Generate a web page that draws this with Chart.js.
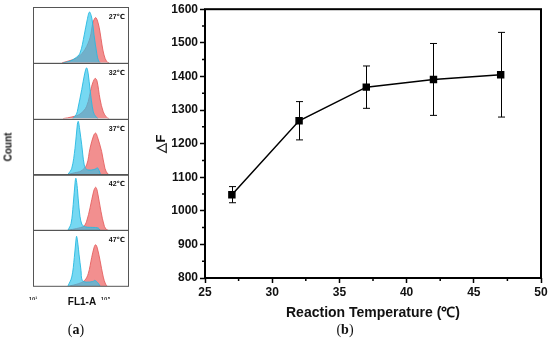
<!DOCTYPE html>
<html lang="en">
<head>
<meta charset="UTF-8">
<title>Reaction temperature vs ΔF</title>
<script src="https://cdn.jsdelivr.net/npm/chart.js"></script>
<style>
  body { margin: 0; width: 550px; height: 351px; background: #fff; position: relative; overflow: hidden;
         font-family: "Liberation Sans", Arial, sans-serif; }
  canvas { position: absolute; }
  #histChart { left: 0; top: 0; }
  #tempChart { left: 140px; top: 0; }
  .txt { position: absolute; color: #111; white-space: nowrap; transform: translate(-50%, -50%); }
  .bold { font-weight: bold; }
  .serif { font-family: "Liberation Serif", "Times New Roman", serif; font-size: 14px; }
</style>
</head>
<body>
<canvas id="histChart" width="140" height="300"></canvas>
<canvas id="tempChart" width="410" height="325"></canvas>

<div class="txt bold" style="left:7.5px; top:147px; font-size:10px; transform:translate(-50%,-50%) rotate(-90deg);">Count</div>
<div class="txt bold" style="left:82px; top:301px; font-size:10px;">FL1-A</div>
<div class="txt serif" style="left:76px; top:330px;">(<b>a</b>)</div>
<div class="txt serif" style="left:345px; top:330px;">(<b>b</b>)</div>

<script>
// ---- panel (a): FL1-A histograms, x = log10 decade, y = % of panel height ----
const histTemps = [27, 32, 37, 42, 47];
const flTicks = [1, 5];

const cyan27 = [[2.66,0],[3.04,3],[3.32,8],[3.59,17],[3.83,50],[3.98,75],[4.12,91],[4.26,78],[4.37,50],[4.52,17],[4.62,3],[4.72,0]];
const red27  = [[2.60,0],[3.04,4],[3.48,10],[3.87,24],[4.15,45],[4.31,72],[4.46,81],[4.59,72],[4.70,55],[4.81,32],[4.92,14],[5.07,2],[5.20,0]];
const cyan32 = [[3.20,0],[3.40,8],[3.48,18],[3.69,52],[3.85,80],[3.96,91],[4.05,80],[4.15,52],[4.33,12],[4.48,3],[4.60,0]];
const red32  = [[2.66,0],[3.15,3],[3.59,8],[3.96,22],[4.24,58],[4.42,72],[4.53,68],[4.70,35],[4.88,12],[5.07,2],[5.20,0]];
const cyan37 = [[2.93,0],[3.14,11],[3.32,47],[3.45,90],[3.50,95],[3.58,80],[3.69,53],[3.83,17],[3.96,9],[4.24,8],[4.48,10],[4.55,12],[4.66,6],[4.72,0]];
const red37  = [[2.95,0],[3.30,3],[3.65,6],[3.96,17],[4.15,47],[4.35,70],[4.46,74],[4.55,68],[4.79,41],[4.97,11],[5.12,1],[5.20,0]];
const cyan42 = [[2.93,0],[3.10,12],[3.22,46],[3.33,88],[3.37,93],[3.45,75],[3.54,40],[3.69,11],[3.90,6],[4.30,5],[4.60,4],[4.70,0]];
const red42  = [[2.95,0],[3.40,3],[3.80,7],[3.96,16],[4.15,40],[4.35,70],[4.46,77],[4.55,70],[4.75,34],[4.94,7],[5.07,1],[5.15,0]];
const cyan47 = [[2.93,0],[3.14,16],[3.28,51],[3.38,85],[3.41,89],[3.48,75],[3.54,57],[3.65,28],[3.72,10],[3.95,7],[4.30,8],[4.42,10],[4.60,5],[4.70,0]];
const red47  = [[3.00,0],[3.50,4],[3.85,10],[4.05,22],[4.24,51],[4.38,70],[4.46,74],[4.55,68],[4.70,46],[4.88,16],[5.01,3],[5.10,0]];

// ---- panel (b): ΔF vs reaction temperature ----
const temperature = [27, 32, 37, 42, 47];
const deltaF = [1048, 1268, 1368, 1391, 1405];
const deltaFErr = [24, 57, 63, 107, 126];

Chart.defaults.font.family = '"Liberation Sans", Arial, sans-serif';
Chart.defaults.color = '#111';

const cyanHist = [cyan27, cyan32, cyan37, cyan42, cyan47];
const redHist = [red27, red32, red37, red42, red47];
const toXY = pts => pts.map(p => ({ x: p[0], y: p[1] }));
const sup = { 1: '\u00b9', 5: '\u2075' };

const histSets = [];
histTemps.forEach((t, i) => {
    histSets.push({
        data: toXY(cyanHist[i]), yAxisID: 'y' + i, order: 0, fill: 'origin',
        backgroundColor: 'rgba(45,195,235,0.65)', borderColor: 'rgba(40,185,225,0.9)',
        borderWidth: 1, pointRadius: 0, tension: 0.35
    });
    histSets.push({
        data: toXY(redHist[i]), yAxisID: 'y' + i, order: 1, fill: 'origin',
        backgroundColor: 'rgba(238,105,105,0.75)', borderColor: 'rgba(230,95,95,0.9)',
        borderWidth: 1, pointRadius: 0, tension: 0.35
    });
});

const histScales = {
    x: {
        type: 'linear', min: 1, max: 6.3,
        afterBuildTicks: s => { s.ticks = flTicks.map(v => ({ value: v })); },
        afterFit: s => { s.height = 14; },
        ticks: { font: { size: 6, weight: 'bold' }, color: '#333', padding: 2, maxRotation: 0, callback: v => '10' + sup[v] },
        grid: { display: false },
        border: { display: false }
    }
};
// stacked axes are placed bottom-up, so add the last panel first
for (let i = histTemps.length - 1; i >= 0; i--) {
    histScales['y' + i] = { type: 'linear', position: 'left', min: 0, max: 100, display: false, stack: 'hist', stackWeight: 1 };
}

// outline of each histogram box and its temperature label
const histFrame = {
    id: 'histFrame',
    afterDatasetsDraw(chart) {
        const { ctx, chartArea: a } = chart;
        ctx.save();
        ctx.strokeStyle = '#555';
        ctx.lineWidth = 1;
        histTemps.forEach((t, i) => {
            const s = chart.scales['y' + i];
            ctx.strokeRect(a.left + 0.5, Math.round(s.top) + 0.5, a.right - a.left - 1, s.bottom - s.top);
            ctx.fillStyle = '#111';
            ctx.font = 'bold 7px "Liberation Sans", "DejaVu Sans", sans-serif';
            ctx.textAlign = 'right';
            ctx.fillText(t + '\u2103', a.right - 4, s.top + 12);
        });
        ctx.restore();
    }
};

new Chart(document.getElementById('histChart'), {
    type: 'line',
    data: { datasets: histSets },
    options: {
        responsive: false, animation: false,
        layout: { padding: { left: 33, right: 11, top: 7, bottom: 0 } },
        plugins: { legend: { display: false }, tooltip: { enabled: false } },
        scales: histScales
    },
    plugins: [histFrame]
});

// error bars drawn under the line and markers
const errorBars = {
    id: 'errorBars',
    beforeDatasetsDraw(chart) {
        const { ctx, scales: { x, y } } = chart;
        ctx.save();
        ctx.strokeStyle = '#000';
        ctx.lineWidth = 1;
        temperature.forEach((t, i) => {
            const px = Math.round(x.getPixelForValue(t)) + 0.5;
            const top = y.getPixelForValue(deltaF[i] + deltaFErr[i]);
            const bot = y.getPixelForValue(deltaF[i] - deltaFErr[i]);
            ctx.beginPath();
            ctx.moveTo(px, top); ctx.lineTo(px, bot);
            ctx.moveTo(px - 3.5, top); ctx.lineTo(px + 3.5, top);
            ctx.moveTo(px - 3.5, bot); ctx.lineTo(px + 3.5, bot);
            ctx.stroke();
        });
        ctx.restore();
    }
};

// box round the plot, plus short minor ticks (majors come from the scales)
const plotFrame = {
    id: 'plotFrame',
    afterDraw(chart) {
        const { ctx, chartArea: a, scales: { x, y } } = chart;
        ctx.save();
        ctx.strokeStyle = '#000';
        ctx.lineWidth = 1.5;
        ctx.beginPath();
        x.ticks.filter(t => t.value % 5 !== 0).forEach(t => {
            const px = x.getPixelForValue(t.value);
            ctx.moveTo(px, a.bottom); ctx.lineTo(px, a.bottom + 3);
        });
        y.ticks.filter(t => t.value % 100 !== 0).forEach(t => {
            const py = y.getPixelForValue(t.value);
            ctx.moveTo(a.left, py); ctx.lineTo(a.left - 3, py);
        });
        ctx.stroke();
        ctx.lineWidth = 2;
        ctx.strokeRect(a.left, a.top, a.right - a.left, a.bottom - a.top);
        ctx.restore();
    }
};

const majorTick = (ctx, step) => (ctx.tick && ctx.tick.value % step === 0 ? '#000' : 'rgba(0,0,0,0)');

new Chart(document.getElementById('tempChart'), {
    type: 'line',
    data: {
        datasets: [{
            data: temperature.map((t, i) => ({ x: t, y: deltaF[i] })),
            borderColor: '#000', borderWidth: 1.5, tension: 0,
            pointStyle: 'rect', pointRadius: 4.2,
            pointBackgroundColor: '#000', pointBorderColor: '#000'
        }]
    },
    options: {
        responsive: false, animation: false,
        layout: { padding: { left: 0, right: 9, top: 7, bottom: 0 } },
        plugins: { legend: { display: false }, tooltip: { enabled: false } },
        scales: {
            x: {
                type: 'linear', min: 25, max: 50,
                afterFit: s => { s.height = 47; },
                ticks: {
                    stepSize: 2.5, autoSkip: false, maxRotation: 0, padding: 2, color: '#111',
                    font: { size: 12, weight: 'bold' },
                    callback: v => (v % 5 === 0 ? v : '')
                },
                grid: { drawOnChartArea: false, tickLength: 5, tickColor: c => majorTick(c, 5), tickWidth: 1.5 },
                border: { display: false },
                title: {
                    display: true, text: 'Reaction Temperature (\u2103)', color: '#111',
                    font: { size: 14, weight: 'bold' }, padding: { top: 0, bottom: 3 }
                }
            },
            y: {
                min: 800, max: 1600,
                afterFit: s => { s.width = 65; },
                ticks: {
                    stepSize: 50, autoSkip: false, padding: 2, color: '#111',
                    font: { size: 12, weight: 'bold' },
                    callback: v => (v % 100 === 0 ? v : '')
                },
                grid: { drawOnChartArea: false, tickLength: 5, tickColor: c => majorTick(c, 100), tickWidth: 1.5 },
                border: { display: false },
                title: {
                    display: true, text: '\u25b3F', color: '#111',
                    font: { size: 13, weight: 'bold' }, padding: { top: 14, bottom: 0 }
                }
            }
        }
    },
    plugins: [errorBars, plotFrame]
});
</script>
</body>
</html>
